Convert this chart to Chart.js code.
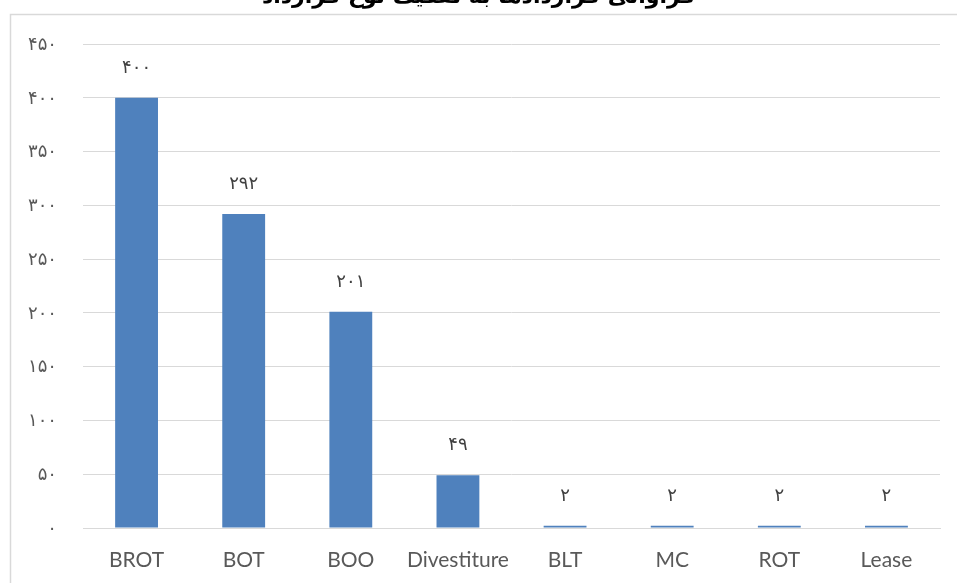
<!DOCTYPE html>
<html>
<head>
<meta charset="utf-8">
<script src="https://cdn.jsdelivr.net/npm/chart.js@4"></script>
<style>
  html,body{margin:0;padding:0;background:#fff;}
  #wrap{width:957px;height:583px;position:relative;}
</style>
</head>
<body>
<div id="wrap"><canvas id="chart" width="957" height="583"></canvas></div>
<script>
// chart data
var categories=['BROT','BOT','BOO','Divestiture','BLT','MC','ROT','Lease'];
var counts=[400,292,201,49,2,2,2,2];
var yTicks=[0,50,100,150,200,250,300,350,400,450];
var chartTitle='فراوانی قراردادها به تفکیک نوع قرارداد';

// persian digits
function fa(n){
    return String(n).replace(/\d/g,function(d){return '۰۱۲۳۴۵۶۷۸۹'[d];});
}

// frame + cut off title
var framePlugin={
    id:'frame',
    beforeDraw:function(chart){
        var c=chart.ctx;
        c.save();
        c.strokeStyle='#d9d9d9';
        c.lineWidth=1.5;
        c.strokeRect(10.5,14.5,chart.width+20,chart.height+20);
        c.fillStyle='#000';
        c.font='bold 22px "DejaVu Sans"';
        c.textAlign='center';
        c.textBaseline='alphabetic';
        c.direction='rtl';
        c.fillText(chartTitle,chart.width/2,3);
        c.restore();
    }
};

// value labels over the bars
var valuePlugin={
    id:'values',
    afterDatasetsDraw:function(chart){
        var c=chart.ctx;
        var meta=chart.getDatasetMeta(0);
        c.save();
        c.fillStyle='#404040';
        c.font='18px Lato, "DejaVu Sans"';
        c.textAlign='center';
        c.textBaseline='middle';
        meta.data.forEach(function(bar,i){
            c.fillText(fa(counts[i]),bar.x,bar.y-31);
        });
        c.restore();
    }
};

var ctx=document.querySelector('#chart').getContext('2d');
var chart=new Chart(ctx,{
    type:'bar',
    data:{
        labels:categories,
        datasets:[{
            data:counts,
            backgroundColor:'#4F81BD',
            borderWidth:0,
            categoryPercentage:0.8,
            barPercentage:0.5
        }]
    },
    options:{
        responsive:false,
        animation:false,
        layout:{padding:{left:7,right:17,top:44,bottom:12}},
        plugins:{legend:{display:false},tooltip:{enabled:false}},
        scales:{
            y:{
                min:0,max:450,
                afterBuildTicks:function(axis){
                    axis.ticks=yTicks.map(function(v){return {value:v};});
                },
                afterFit:function(axis){axis.width=76;},
                grid:{color:'#d9d9d9',lineWidth:1,drawTicks:false},
                border:{display:false},
                ticks:{
                    padding:26,
                    color:'#595959',
                    font:{family:'Lato, "DejaVu Sans"',size:18},
                    callback:function(v){return fa(v);}
                }
            },
            x:{
                afterFit:function(axis){axis.height=43;},
                grid:{display:false,drawTicks:false},
                border:{display:true,color:'#d9d9d9',width:1},
                ticks:{
                    padding:20,
                    maxRotation:0,
                    minRotation:0,
                    autoSkip:false,
                    color:'#595959',
                    font:{family:'Lato, "DejaVu Sans"',size:21}
                }
            }
        }
    },
    plugins:[framePlugin,valuePlugin]
});
</script>
</body>
</html>
